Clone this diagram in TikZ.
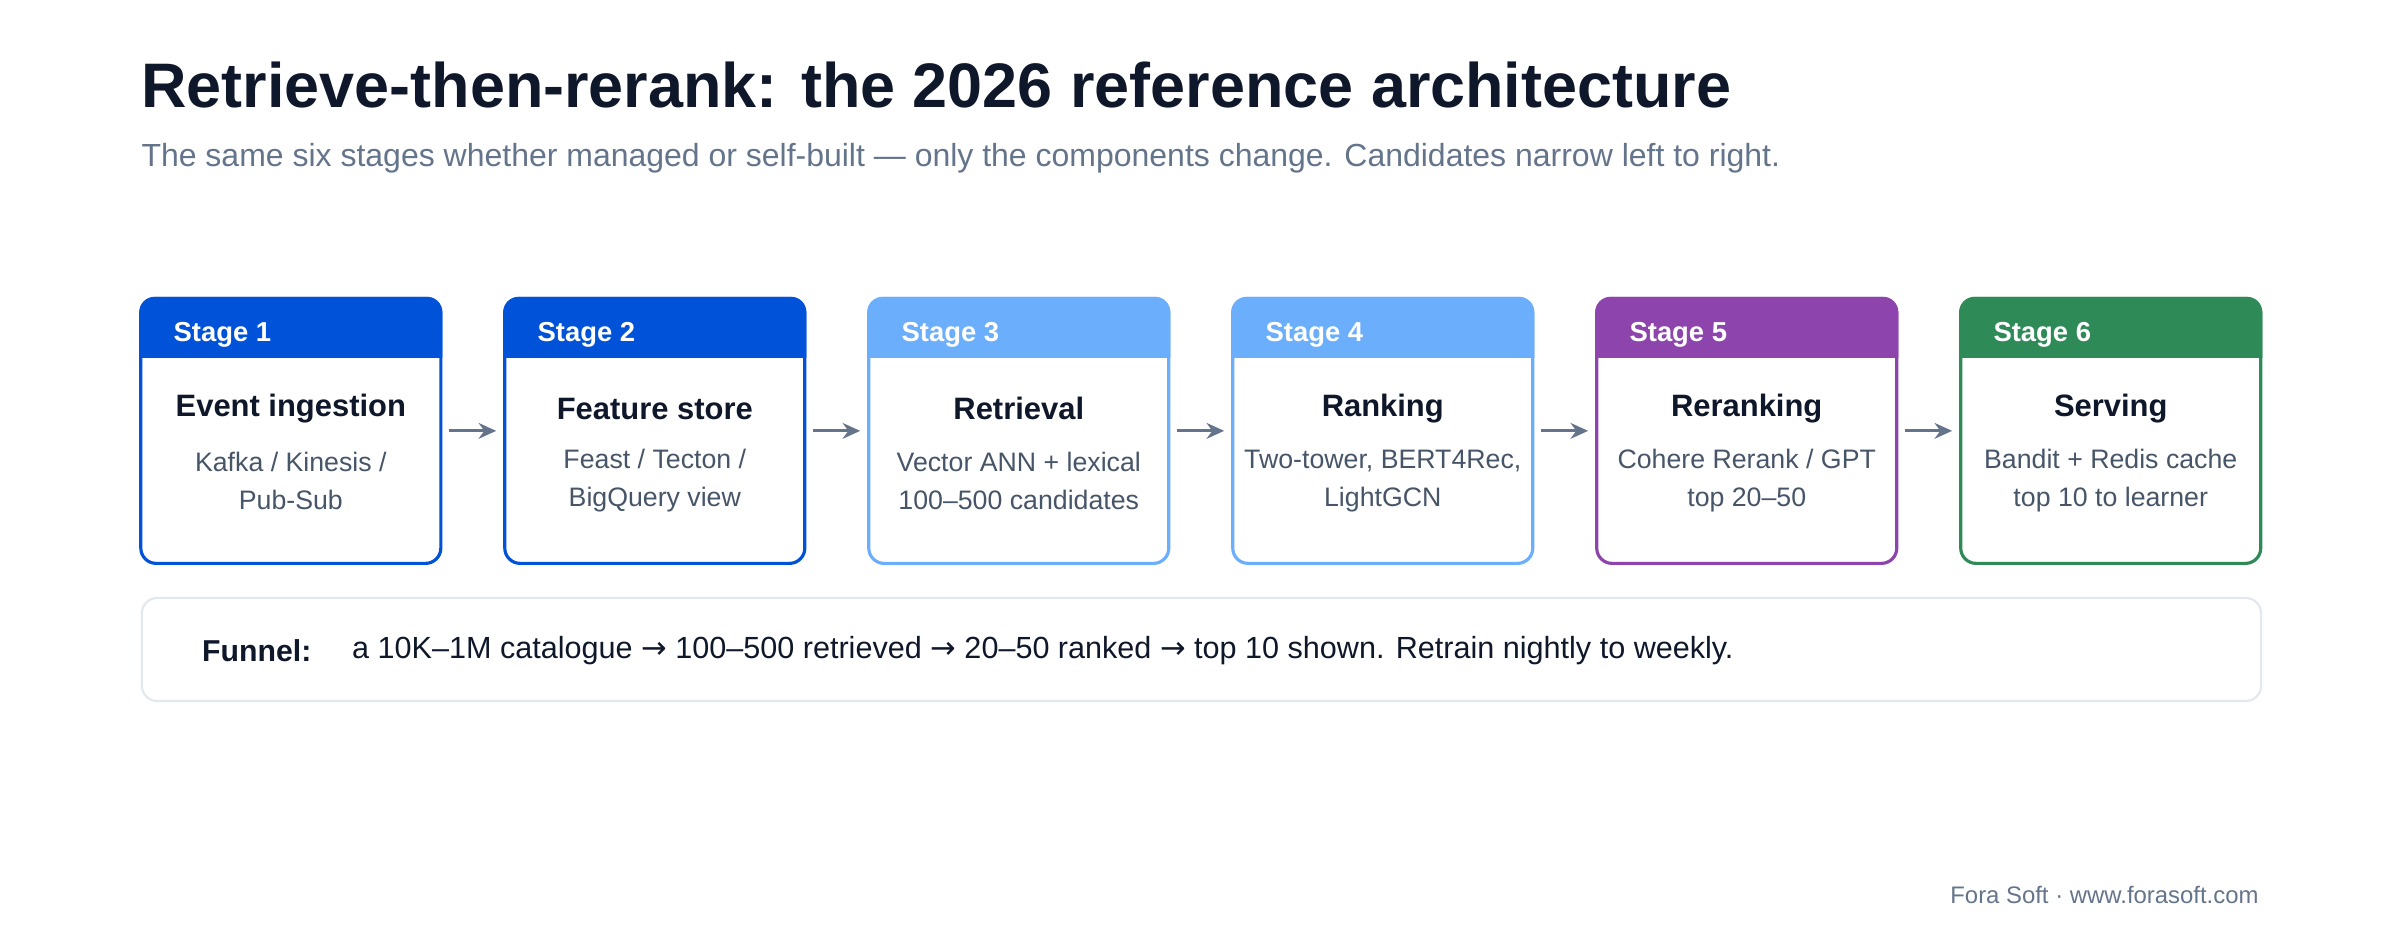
\documentclass[tikz,border=0pt]{standalone}
\usepackage{fontspec}
\setmainfont{Liberation Sans}
\newfontfamily\symfont{DejaVu Sans}
\usetikzlibrary{arrows.meta, positioning}
\definecolor{ink}{HTML}{0F172A}
\definecolor{muted}{HTML}{64748B}
\definecolor{body}{HTML}{475569}
\definecolor{edge}{HTML}{E2E8F0}
\definecolor{deepblue}{HTML}{0052D9}
\definecolor{lightblue}{HTML}{6BAEFB}
\definecolor{purple}{HTML}{8E44AD}
\definecolor{green}{HTML}{2E8B57}
\tikzset{
  stage/.style = {draw=#1, line width=0.9pt, rectangle, rounded corners=0.153cm,
                  minimum width=3cm, minimum height=2.65cm, fill=white},
  tag/.style = {text=white, font=\fontsize{7.8}{9}\selectfont\bfseries, anchor=west},
  head/.style = {text=ink, font=\fontsize{8.8}{10}\selectfont\bfseries},
  detail/.style = {text=body, font=\fontsize{7.6}{10.9}\selectfont, align=center},
  flow/.style = {draw=muted, line width=0.8pt, -{Stealth[length=5pt,width=4.5pt]},
                 shorten <=2pt, shorten >=2pt}
}
\begin{document}
\begin{tikzpicture}[x=0.01531cm, y=-0.01531cm]
    \useasboundingbox (0,0) rectangle (1568,614);

    % Title and subtitle
    \node [anchor=base west, text=ink, font=\fontsize{17.9}{20}\selectfont\bfseries, inner sep=0] (title)
      at (92,70) {Retrieve-then-rerank: the 2026 reference architecture};
    \node [anchor=base west, text=muted, font=\fontsize{9.1}{11}\selectfont, inner sep=0] (subtitle)
      at (92,109) {The same six stages whether managed or self-built — only the components change. Candidates narrow left to right.};

    % The six stages
    \foreach \i/\col/\name/\info in {
        1/deepblue/Event ingestion/{Kafka / Kinesis /\\Pub-Sub},
        2/deepblue/Feature store/{Feast / Tecton /\\BigQuery view},
        3/lightblue/Retrieval/{Vector ANN + lexical\\100–500 candidates},
        4/lightblue/Ranking/{Two-tower, BERT4Rec,\\LightGCN},
        5/purple/Reranking/{Cohere Rerank / GPT\\top 20–50},
        6/green/Serving/{Bandit + Redis cache\\top 10 to learner}} {
      \node [stage=\col] (s\i) at ({190+(\i-1)*237.8}, 281.5) {};
      \fill [\col] ([yshift=-0.612cm]s\i.north west) [rounded corners=0.153cm]
        -- (s\i.north west) -- (s\i.north east) [sharp corners]
        -- ([yshift=-0.612cm]s\i.north east) -- cycle;
      \node [tag] (t\i) at ([xshift=0.22cm, yshift=-0.38cm]s\i.north west) {Stage \i};
      \node [head] (h\i) at ([yshift=-1.12cm]s\i.north) {\name};
      \node [detail] (d\i) at ([yshift=-1.84cm]s\i.north) {\info};
    }

    % Arrows between stages
    \foreach \i [evaluate=\i as \j using int(\i+1)] in {1,...,5}
      \draw [flow] (s\i.east) -- (s\j.west);

    % Funnel note
    \node [draw=edge, line width=0.6pt, rounded corners=0.153cm, minimum width=21.19cm,
           minimum height=1.03cm, anchor=north west] (funnel) at (92,390) {};
    \node [anchor=west, text=ink, font=\fontsize{8.6}{10}\selectfont\bfseries] (flabel)
      at (124,425) {Funnel:};
    \node [anchor=west, text=ink, font=\fontsize{8.7}{10}\selectfont] (ftext)
      at (222,425) {a 10K–1M catalogue {\symfont→} 100–500 retrieved {\symfont→} 20–50 ranked {\symfont→} top 10 shown. Retrain nightly to weekly.};

    % Footer
    \node [anchor=base east, text=muted, font=\fontsize{6.8}{8}\selectfont, inner sep=0] (footer)
      at (1476,590) {Fora Soft · www.forasoft.com};
\end{tikzpicture}
\end{document}
